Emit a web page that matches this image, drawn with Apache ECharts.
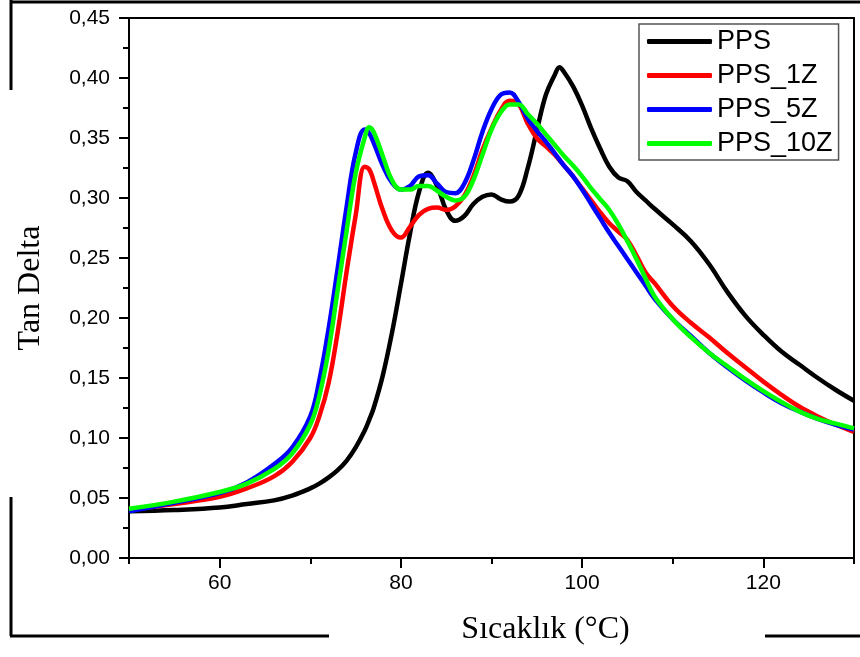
<!DOCTYPE html>
<html>
<head>
<meta charset="utf-8">
<script src="https://cdn.jsdelivr.net/npm/echarts@6/dist/echarts.min.js"></script>
<style>html,body{margin:0;padding:0;background:#fff;}#c{width:860px;height:657px;}</style>
</head>
<body>
<div id="c"></div>
<script>
const temps = [50,55,60,63,66,68,70,71,72,73,74,75,76,76.5,77,78,79,80,81,82,83,84,85,86,87,88,89,90,91,92,93,94,95,96,97,97.5,98,99,100,101,102,103,104,105,106,107,108,110,112,114,116,118,120,122,124,126,128,130];
const pps = [0.039,0.040,0.042,0.045,0.048,0.052,0.058,0.062,0.067,0.073,0.081,0.092,0.106,0.115,0.125,0.152,0.187,0.228,0.270,0.305,0.321,0.310,0.290,0.281,0.285,0.295,0.301,0.303,0.299,0.297,0.302,0.325,0.356,0.386,0.403,0.409,0.405,0.393,0.377,0.358,0.341,0.326,0.317,0.314,0.305,0.298,0.291,0.278,0.264,0.245,0.222,0.202,0.186,0.172,0.161,0.150,0.140,0.131];
const pps1z = [0.040,0.045,0.051,0.058,0.068,0.080,0.100,0.118,0.145,0.187,0.238,0.285,0.326,0.324,0.314,0.290,0.273,0.267,0.276,0.286,0.291,0.292,0.290,0.293,0.302,0.318,0.340,0.358,0.373,0.381,0.378,0.362,0.350,0.343,0.336,0.3315,0.327,0.318,0.308,0.298,0.288,0.279,0.272,0.265,0.252,0.238,0.229,0.210,0.196,0.184,0.171,0.159,0.147,0.136,0.126,0.118,0.111,0.105];
const pps5z = [0.039,0.046,0.054,0.063,0.078,0.092,0.118,0.148,0.190,0.240,0.292,0.337,0.357,0.354,0.346,0.327,0.313,0.307,0.310,0.318,0.319,0.312,0.305,0.304,0.312,0.331,0.355,0.374,0.386,0.388,0.380,0.366,0.356,0.347,0.337,0.332,0.327,0.318,0.307,0.295,0.283,0.271,0.260,0.249,0.238,0.227,0.216,0.199,0.185,0.171,0.159,0.148,0.138,0.129,0.122,0.116,0.111,0.107];
const pps10z = [0.041,0.047,0.055,0.062,0.074,0.087,0.111,0.135,0.172,0.222,0.272,0.320,0.350,0.359,0.355,0.335,0.315,0.307,0.307,0.310,0.310,0.306,0.301,0.298,0.301,0.315,0.336,0.357,0.371,0.378,0.378,0.370,0.362,0.353,0.344,0.3395,0.335,0.327,0.318,0.308,0.299,0.290,0.278,0.264,0.249,0.233,0.218,0.199,0.184,0.171,0.160,0.149,0.139,0.130,0.122,0.116,0.112,0.108];
const seriesNames = ['PPS','PPS_1Z','PPS_5Z','PPS_10Z'];
const seriesColors = ['#000000','#ff0000','#0000ff','#00ff00'];
const seriesData = [pps, pps1z, pps5z, pps10z];
const xMajorTicks = [60, 80, 100, 120];
const xMinorTicks = [50, 70, 90, 110, 130];
const xTitle = 'Sıcaklık (°C)';
const yTitle = 'Tan Delta';

const chart = echarts.init(document.getElementById('c'), null, {renderer:'canvas'});
const sans = 'Liberation Sans, Arial, sans-serif';
const serif = 'Liberation Serif, Times New Roman, serif';
const axisLineStyle = {show: true, onZero: false, lineStyle: {color: '#000', width: 2}};
chart.setOption({
  animation: false,
  backgroundColor: '#ffffff',
  grid: {left: 129, right: 6, top: 18, bottom: 99, show: true, borderColor: '#000', borderWidth: 2, backgroundColor: 'transparent'},
  legend: {
    show: true, type: 'plain', orient: 'vertical',
    left: 639, top: 24,
    padding: [4, 6, 3, 8], itemGap: 7, itemWidth: 65, itemHeight: 5,
    icon: 'roundRect',
    borderColor: '#555', borderWidth: 1.5, backgroundColor: '#fff',
    textStyle: {fontFamily: sans, fontSize: 27, color: '#000', lineHeight: 27},
    data: seriesNames
  },
  xAxis: [{
    type: 'value', min: 50, max: 130, interval: 10, position: 'bottom',
    name: xTitle, nameLocation: 'middle', nameGap: 56,
    nameTextStyle: {fontFamily: serif, fontSize: 32, color: '#000', padding: [0, 0, 0, 108]},
    axisLine: axisLineStyle,
    axisTick: {show: true, inside: false, length: 10, customValues: xMajorTicks, lineStyle: {color: '#000', width: 2}},
    axisLabel: {fontFamily: sans, fontSize: 21, color: '#000', margin: 15, customValues: xMajorTicks},
    splitLine: {show: false}
  }, {
    type: 'value', min: 50, max: 130, interval: 10, position: 'bottom', offset: 0,
    axisLine: axisLineStyle,
    axisTick: {show: true, inside: false, length: 6, customValues: xMinorTicks, lineStyle: {color: '#000', width: 2}},
    axisLabel: {show: false},
    splitLine: {show: false}
  }],
  yAxis: {
    type: 'value', min: 0, max: 0.45, interval: 0.05,
    name: yTitle, nameLocation: 'middle', nameGap: 82,
    nameTextStyle: {fontFamily: serif, fontSize: 32, color: '#000'},
    axisLine: {show: true, lineStyle: {color: '#000', width: 2}},
    axisTick: {show: true, inside: false, length: 10, lineStyle: {color: '#000', width: 2}},
    minorTick: {show: true, splitNumber: 2, length: 6, lineStyle: {color: '#000', width: 2}},
    axisLabel: {fontFamily: sans, fontSize: 21, color: '#000', margin: 19,
      formatter: v => v.toFixed(2).replace('.', ',')},
    splitLine: {show: false}
  },
  graphic: [
    {type: 'line', shape: {x1: 10, y1: 2, x2: 860, y2: 2}, style: {stroke: '#000', lineWidth: 3}},
    {type: 'line', shape: {x1: 11, y1: 0, x2: 11, y2: 90}, style: {stroke: '#000', lineWidth: 3}},
    {type: 'line', shape: {x1: 11, y1: 497, x2: 11, y2: 636}, style: {stroke: '#000', lineWidth: 3}},
    {type: 'line', shape: {x1: 10, y1: 636, x2: 329, y2: 636}, style: {stroke: '#000', lineWidth: 3}},
    {type: 'line', shape: {x1: 765, y1: 636, x2: 860, y2: 636}, style: {stroke: '#000', lineWidth: 3}}
  ],
  series: seriesNames.map((n, i) => ({
    name: n, type: 'line', xAxisIndex: 0, smooth: 0.4, showSymbol: false, symbol: 'none',
    color: seriesColors[i],
    lineStyle: {color: seriesColors[i], width: 4.5},
    data: temps.map((t, k) => [t, seriesData[i][k]])
  }))
});
</script>
</body>
</html>
